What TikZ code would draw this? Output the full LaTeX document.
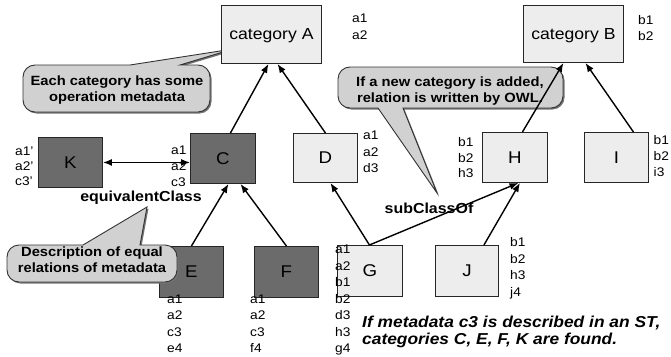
\documentclass[tikz,border=0pt]{standalone}
\usepackage{fontspec}
\setmainfont[FakeStretch=1.1]{Liberation Sans}
\usetikzlibrary{arrows.meta}
\definecolor{lightbox}{gray}{0.93}
\definecolor{darkbox}{gray}{0.42}
\definecolor{bubble}{gray}{0.82}
\newcommand\mylabels[5]{\foreach \t [count=\i] in {#5} \node[lbl] (#1\i) at ({#2},{#3+#4*(\i-1)}) {\t};}
\begin{document}
\begin{tikzpicture}[x=1pt,y=-1pt,
 box/.style={draw=black!85, line width=0.9pt, fill=lightbox, anchor=north west, inner sep=0pt, font=\fontsize{17}{20}\selectfont},
 dbox/.style={box, fill=darkbox},
 cat/.style={box, font=\fontsize{16}{19}\selectfont, text depth=0pt},
 lbl/.style={anchor=base west, inner sep=0pt, font=\fontsize{12.5}{15}\selectfont},
 arr/.style={line width=1.4pt, -{Latex[length=9pt,width=7pt]}},
 callout/.style={draw=black!80, line width=0.9pt, fill=bubble,
   preaction={fill=black!55, transform canvas={shift={(1.5pt,-1.5pt)}}}},
 ctext/.style={font=\bfseries\fontsize{13.4}{16}\selectfont, align=center, inner sep=0pt},
 rel/.style={font=\bfseries\fontsize{14.5}{17}\selectfont, anchor=base, inner sep=0pt},
 note/.style={font=\bfseries\itshape\fontsize{15.8}{18}\selectfont, anchor=base west, inner sep=0pt}
]
\useasboundingbox (0,0) rectangle (671,356);

% callouts
\draw[callout] (180,65) -- (233,49) -- (130,65) [rounded corners=12pt] -- (23,65) -- (23,112) -- (210,112) -- (210,65) [sharp corners] -- cycle;
\node[ctext] (t1) at (117,90) {Each category has some\\operation metadata};

\draw[callout] (403,108) -- (437,193) -- (378,108) [rounded corners=12pt] -- (338,108) -- (338,67) -- (563,67) -- (563,108) [sharp corners] -- cycle;
\node[ctext] (t2) at (450,91.5) {If a new category is added,\\relation is written by OWL.};

% boxes
\node[cat, minimum width=100pt, minimum height=58pt] (A) at (221,5) {category A};
\node[cat, minimum width=100pt, minimum height=57pt] (B) at (523,5) {category B};
\node[dbox, minimum width=64pt, minimum height=50pt] (K) at (38,137) {K};
\node[dbox, minimum width=65pt, minimum height=50pt] (C) at (190,133) {C};
\node[box, minimum width=64pt, minimum height=49pt] (D) at (293,133) {D};
\node[box, minimum width=65pt, minimum height=50pt] (H) at (482,132) {H};
\node[box, minimum width=64pt, minimum height=50pt] (I) at (584,132) {I};
\node[dbox, minimum width=64pt, minimum height=51pt] (E) at (159,246) {E};
\node[dbox, minimum width=64pt, minimum height=51pt] (F) at (254,246) {F};
\node[box, minimum width=65pt, minimum height=51pt] (G) at (337,245) {G};
\node[box, minimum width=63pt, minimum height=51pt] (J) at (435,245) {J};

\draw[callout] (83,245) -- (147,207) -- (140,245) [rounded corners=12pt] -- (177,245) -- (177,282) -- (7,282) -- (7,245) [sharp corners] -- cycle;
\node[ctext] (t3) at (92,260) {Description of equal\\relations of metadata};

% labels
\mylabels{la}{352}{22.5}{17}{a1,a2}
\mylabels{lb}{638}{24.5}{16}{b1,b2}
\mylabels{lk}{15}{155.5}{15}{a1',a2',c3'}
\mylabels{lc}{171}{154.5}{16}{a1,a2,c3}
\mylabels{ld}{363}{139.5}{16.5}{a1,a2,d3}
\mylabels{lh}{458}{146.5}{15.5}{b1,b2,h3}
\mylabels{li}{653.5}{144.5}{16}{b1,b2,i3}
\mylabels{le}{167}{303.5}{16.3}{a1,a2,c3,e4}
\mylabels{lf}{250}{303.5}{16.3}{a1,a2,c3,f4}
\mylabels{lg}{335}{253.5}{16.5}{a1,a2,b1,b2,d3,h3,g4}
\mylabels{lj}{510}{246.5}{16.7}{b1,b2,h3,j4}

% connectors
\draw[arr] ([xshift=7.5pt]C.north) -- ([xshift=-3pt]A.south);
\draw[arr] (D.north) -- ([xshift=6pt]A.south);
\draw[line width=1.4pt, {Latex[length=9pt,width=7pt]}-{Latex[length=9pt,width=7pt]}] (K.east) -- (K.east -| C.west);
\draw[arr] (E.north) -- ([xshift=5.5pt]C.south);
\draw[arr] (F.north) -- ([xshift=17.5pt]C.south);
\draw[arr] ([xshift=-0.5pt]G.north) -- ([xshift=5pt]D.south);
\draw[arr] ([xshift=-0.5pt]G.north) -- ([xshift=3.5pt]H.south);
\draw[arr] ([xshift=17pt]J.north) -- ([xshift=5pt]H.south);
\draw[arr] ([xshift=7.5pt]H.north) -- ([xshift=-10pt]B.south);
\draw[arr] ([xshift=17pt]I.north) -- ([xshift=12pt]B.south);

% relation labels
\node[rel] (eq) at (141,201) {equivalentClass};
\node[rel] (sub) at (429,213) {subClassOf};

% note
\node[note] (n1) at (362,327) {If metadata c3 is described in an ST,};
\node[note] (n2) at (362,344) {categories C, E, F, K are found.};
\end{tikzpicture}
\end{document}
